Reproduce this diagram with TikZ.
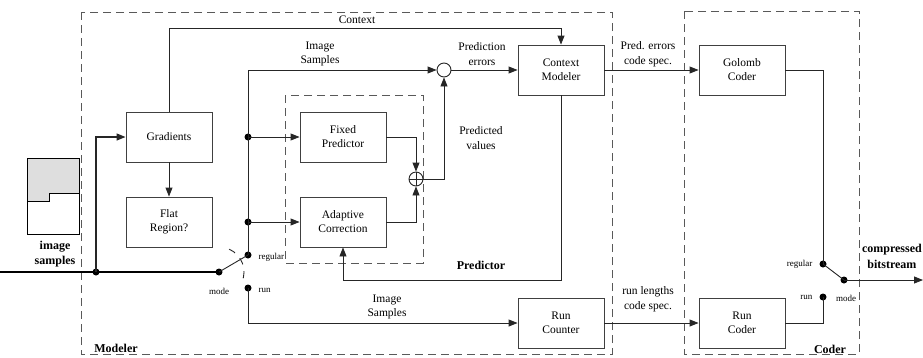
\documentclass[tikz,border=0pt]{standalone}
\usepackage{fontspec}
\setmainfont{Liberation Serif}
\usetikzlibrary{arrows.meta}
\begin{document}
\begin{tikzpicture}[x=1pt,y=-1pt,
  ln/.style={draw=black!85, line width=0.9pt},
  thickln/.style={draw=black, line width=1.8pt},
  tip/.style={-{Triangle[length=9pt,width=7pt]}},
  blk/.style={draw=black!75, line width=0.9pt, minimum width=86pt, minimum height=50pt,
              align=center, inner sep=0pt, font=\fontsize{11.5}{14}\selectfont},
  grp/.style={draw=black!65, line width=0.9pt, dash pattern=on 8pt off 5pt},
  dot/.style={circle, fill=black, inner sep=0pt, minimum size=7pt},
  junc/.style={circle, draw=black!85, line width=0.9pt, inner sep=0pt, minimum size=14pt},
  lbl/.style={align=center, font=\fontsize{11.5}{14.5}\selectfont},
  small/.style={font=\fontsize{9}{10}\selectfont},
  bold/.style={align=center, font=\bfseries\fontsize{12}{16}\selectfont}]
\useasboundingbox (0,0) rectangle (923,357);

% group frames
\draw[grp] (81,12) rectangle (612,354);
\draw[grp] (684,11) rectangle (859,354);
\draw[grp] (285,95) rectangle (423,263);
\node[bold] (tmodeler) at (116,348) {Modeler};
\node[bold] (tcoder) at (830,349) {Coder};
\node[bold] (tpred) at (481,265) {Predictor};

% image sample icon
\draw[line width=0.8pt, fill=black!13] (27,158) -- (79,158) -- (79,193) -- (49,193) -- (49,201) -- (27,201) -- cycle;
\draw[line width=0.8pt] (27,158) rectangle (79,234);
\node[bold, font=\bfseries\fontsize{12}{15}\selectfont] (tin) at (55,254) {image\\samples};

% blocks
\node[blk] (grad) at (169,137) {Gradients};
\node[blk] (flat) at (169,222) {Flat\\Region?};
\node[blk] (fp) at (343,137) {Fixed\\Predictor};
\node[blk] (ac) at (343,222) {Adaptive\\Correction};
\node[blk] (cm) at (561,70) {Context\\Modeler};
\node[blk] (gc) at (742,70) {Golomb\\Coder};
\node[blk] (rcnt) at (561,323) {Run\\Counter};
\node[blk] (rcod) at (742,323) {Run\\Coder};

% adder and subtractor
\node[junc] (sum) at (416,179) {};
\draw[ln] (sum.north) -- (sum.south) (sum.west) -- (sum.east);
\node[junc] (diff) at (444,70) {};

% switch contacts and branch points
\node[dot] (jin) at (96,272) {};
\node[dot] (mode) at (219,272) {};
\node[dot] (reg) at (248,255) {};
\node[dot] (run) at (248,288) {};
\node[dot] (jfp) at (248,137) {};
\node[dot] (jac) at (248,222) {};
\node[dot] (creg) at (823,264) {};
\node[dot] (crun) at (823,297) {};
\node[dot] (cmode) at (844,280) {};
\coordinate (src) at (0,272);
\coordinate (jtop) at (248,70);
\coordinate (ctxy) at (0,28);
\coordinate (fby) at (0,280);
\coordinate (sink) at (923,280);

% input and gradient path
\draw[thickln] (src) -- (mode.center);
\draw[ln, line width=1.3pt, tip] (jin.center) |- (grad.west);
\draw[ln, tip] (grad.south) -- (flat.north);
\draw[ln, tip] (grad.north) -- (grad.north |- ctxy) -| (cm.north);
\node[lbl] (tctx) at (357,20) {Context};

% regular mode path
\draw[ln] (mode.center) -- (reg.center);
\draw[black!85, line width=0.9pt, dash pattern=on 7pt off 7pt] (mode.center) ++(-66:25) arc[start angle=-66, end angle=24, radius=25];
\draw[ln] (reg.center) -- (jtop);
\draw[ln, tip] (jtop) -- (diff.west);
\node[lbl] (tis1) at (320,54) {Image\\Samples};
\draw[ln, tip] (jfp.center) -- (fp.west);
\draw[ln, tip] (jac.center) -- (ac.west);
\draw[ln, tip] (fp.east) -| (sum.north);
\draw[ln, tip] (ac.east) -| (sum.south);
\draw[ln, tip] (sum.east) -| (diff.south);
\node[lbl] (tpv) at (481,138) {Predicted\\values};
\draw[ln, tip] (diff.east) -- (cm.west);
\node[lbl] (tpe) at (482,54) {Prediction\\errors};
\draw[ln, tip] (cm.south) -- (cm.south |- fby) -| (ac.south);
\draw[ln, tip] (cm.east) -- (gc.west);
\node[lbl] (tpec) at (648,54) {Pred. errors\\code spec.};

% run mode path
\draw[ln, tip] (run.center) |- (rcnt.west);
\node[lbl] (tis2) at (387,307) {Image\\Samples};
\draw[ln, tip] (rcnt.east) -- (rcod.west);
\node[lbl] (trl) at (648,299) {run lengths\\code spec.};

% coder output switch
\draw[ln] (gc.east) -| (creg.center);
\draw[ln] (rcod.east) -| (crun.center);
\draw[ln] (creg.center) -- (cmode.center);
\draw[ln, tip] (cmode.center) -- (sink);
\node[bold, font=\bfseries\fontsize{12}{16}\selectfont, anchor=east, inner xsep=1pt] (tout) at (923,256) {compressed\\bitstream};

% switch labels
\node[small] (tmode) at (219,291) {mode};
\node[small, anchor=west] (treg) at (255,257) {regular};
\node[small, anchor=west] (trun) at (255,290) {run};
\node[small, anchor=east] (tcreg) at (816,264) {regular};
\node[small, anchor=east] (tcrun) at (816,297) {run};
\node[small] (tcmode) at (846,298) {mode};
\end{tikzpicture}
\end{document}
